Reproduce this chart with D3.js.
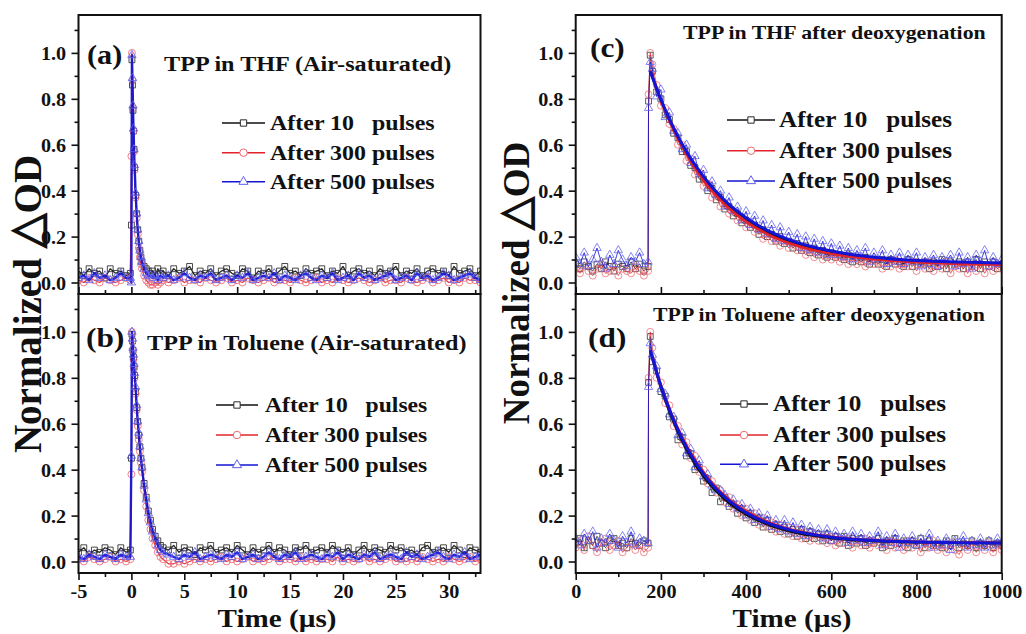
<!DOCTYPE html>
<html>
<head>
<meta charset="utf-8">
<script src="https://cdn.jsdelivr.net/npm/d3@7"></script>
<style>
  html, body { margin: 0; padding: 0; background: #fff; }
  svg { display: block; }
</style>
</head>
<body>
<script>
// ---------------------------------------------------------------------------
// Transient absorption decays of TPP, normalised ΔOD vs time
// ---------------------------------------------------------------------------

// Legend entries (one per pulse count)
const legendLabels = ["After 10   pulses", "After 300 pulses", "After 500 pulses"];

// Air-saturated solutions: sampling times (µs)
const timeAir = [
  -5, -4.5, -4, -3.5, -3, -2.5, -2, -1.5, -1, -0.5,
  -0.1, 0, 0.05, 0.1, 0.15, 0.2, 0.25, 0.3, 0.4, 0.5, 0.6, 0.7, 0.8, 0.9, 1.0, 1.2, 1.4, 1.6, 1.8, 2.0, 2.25, 2.5, 2.75, 3.0,
  3.5, 4, 4.5, 5, 5.5, 6, 6.5, 7, 7.5, 8,
  8.5, 9, 9.5, 10, 10.5, 11, 11.5, 12, 12.5, 13,
  13.5, 14, 14.5, 15, 15.5, 16, 16.5, 17, 17.5, 18,
  18.5, 19, 19.5, 20, 20.5, 21, 21.5, 22, 22.5, 23,
  23.5, 24, 24.5, 25, 25.5, 26, 26.5, 27, 27.5, 28,
  28.5, 29, 29.5, 30, 30.5, 31, 31.5, 32, 32.5, 33
];

// (a) TPP in THF, air-saturated
const thfAir10 = [
  .05,.03,.06,.04,.05,.02,.06,.04,.05,.03,
  .04,.25,.97,.86,.75,.66,.58,.50,.38,.30,.23,.18,.14,.11,.09,.07,.06,.05,.04,.05,.03,.06,.04,.05,
  .03,.06,.04,.05,.07,.03,.05,.04,.06,.03,
  .05,.06,.04,.03,.06,.05,.02,.05,.04,.06,
  .03,.05,.07,.04,.05,.03,.06,.04,.05,.06,
  .03,.05,.04,.07,.03,.05,.06,.04,.05,.03,
  .06,.04,.05,.07,.03,.05,.04,.06,.03,.05,
  .06,.04,.05,.03,.07,.04,.05,.06,.03,.05
];
const thfAir300 = [
  .01,0,.02,.01,0,.02,.01,0,.01,.02,
  .01,.55,1.00,.88,.76,.66,.57,.49,.37,.28,.21,.15,.11,.08,.06,.03,.01,0,-.01,-.01,0,-.01,0,.01,
  0,.01,.02,0,.01,.01,0,.02,.01,0,
  .01,.02,0,.01,0,.02,.01,0,.01,.02,
  0,.01,.01,0,.02,.01,0,.01,.02,0,
  .01,0,.02,.01,0,.01,.02,.01,0,.01,
  .02,0,.01,.01,0,.02,.01,0,.01,.02,
  0,.01,.02,0,.01,0,.02,.01,.01,0
];
const thfAir500 = [
  .02,.03,.01,.04,.02,.03,.01,.02,.04,.02,
  .02,0,.99,.89,.77,.67,.58,.51,.39,.30,.23,.18,.14,.11,.09,.06,.04,.03,.03,.02,.03,.01,.03,.02,
  .03,.01,.02,.04,.02,.01,.03,.02,.04,.01,
  .02,.03,.01,.03,.02,.04,.01,.02,.03,.02,
  .04,.01,.03,.02,.01,.03,.04,.02,.01,.03,
  .02,.04,.01,.02,.03,.01,.04,.02,.03,.01,
  .02,.03,.04,.01,.02,.03,.01,.04,.02,.03,
  .01,.02,.04,.03,.01,.02,.03,.04,.02,.01
];

// (b) TPP in toluene, air-saturated
const tolAir10 = [
  .04,.06,.03,.05,.04,.06,.05,.03,.06,.04,
  .05,.45,.99,.96,.92,.89,.85,.81,.74,.67,.61,.55,.50,.45,.41,.34,.28,.22,.18,.14,.11,.09,.07,.06,
  .05,.07,.04,.06,.05,.03,.06,.05,.07,.04,
  .05,.06,.04,.07,.05,.03,.06,.04,.05,.07,
  .04,.06,.05,.03,.06,.05,.07,.04,.05,.06,
  .04,.07,.05,.04,.06,.03,.05,.07,.04,.06,
  .05,.04,.07,.05,.06,.04,.05,.03,.06,.07,
  .04,.05,.06,.04,.07,.05,.03,.06,.05,.04
];
const tolAir300 = [
  .01,0,.02,.01,0,.01,.02,0,.01,0,
  .01,.38,1.00,.96,.92,.88,.84,.80,.73,.66,.59,.53,.48,.43,.39,.31,.24,.18,.14,.10,.07,.04,.02,.01,
  -.01,-.01,0,-.01,0,.01,0,.01,0,.01,
  .02,0,.01,0,.01,.02,0,.01,0,.01,
  .02,0,.01,.01,0,.02,0,.01,0,.01,
  .01,0,.02,0,.01,0,.01,.02,0,.01,
  0,.01,.02,0,.01,0,.01,0,.02,.01,
  0,.01,0,.02,.01,0,.01,.02,0,.01
];
const tolAir500 = [
  .02,.01,.03,.02,.01,.03,.02,.01,.03,.02,
  .02,.46,1.00,.97,.93,.90,.86,.82,.76,.68,.61,.56,.50,.45,.41,.33,.27,.21,.17,.13,.10,.07,.05,.04,
  .03,.02,.01,.03,.02,.04,.01,.02,.03,.02,
  .01,.03,.02,.04,.01,.02,.03,.01,.02,.04,
  .02,.01,.03,.02,.04,.01,.02,.03,.02,.01,
  .03,.02,.04,.01,.03,.02,.01,.03,.02,.04,
  .01,.02,.03,.02,.01,.04,.02,.03,.01,.02,
  .03,.04,.02,.01,.03,.02,.04,.01,.02,.03
];

// Deoxygenated solutions: sampling times (µs)
const timeDeox = [
  0, 10, 20, 30, 40, 50, 60, 70, 80, 90, 100, 110, 120, 130, 140, 150, 160, 170,
  171, 175,
  180, 190, 200, 210, 220, 230, 240, 250, 260, 270,
  280, 290, 300, 310, 320, 330, 340, 350, 360, 370,
  380, 390, 400, 410, 420, 430, 440, 450, 460, 470,
  480, 490, 500, 510, 520, 530, 540, 550, 560, 570,
  580, 590, 600, 610, 620, 630, 640, 650, 660, 670,
  680, 690, 700, 710, 720, 730, 740, 750, 760, 770,
  780, 790, 800, 810, 820, 830, 840, 850, 860, 870,
  880, 890, 900, 910, 920, 930, 940, 950, 960, 970,
  980, 990, 1000
];

// (c) TPP in THF after deoxygenation
const thfDeox10 = [
  .08,.06,.09,.07,.05,.08,.06,.09,.07,.05,.08,.07,.06,.09,.06,.08,.05,.07,
  .79,.99,
  .92,.83,.80,.73,.71,.65,.63,.57,.57,.51,
  .50,.45,.45,.40,.41,.36,.37,.32,.33,.29,
  .30,.26,.27,.24,.25,.21,.23,.20,.21,.18,
  .20,.17,.18,.15,.17,.14,.16,.13,.15,.12,
  .14,.11,.13,.11,.12,.10,.12,.09,.11,.09,
  .11,.08,.10,.08,.10,.07,.10,.08,.09,.07,
  .10,.07,.09,.08,.09,.06,.09,.07,.10,.06,
  .09,.08,.09,.06,.09,.07,.10,.06,.09,.07,
  .09,.06,.08
];
const thfDeox300 = [
  .06,.04,.07,.05,.03,.06,.08,.04,.05,.07,.03,.06,.05,.04,.07,.05,.03,.05,
  .82,1.00,
  .95,.86,.77,.76,.69,.67,.60,.60,.53,.54,
  .47,.48,.42,.43,.37,.38,.33,.34,.30,.31,
  .27,.28,.24,.26,.22,.23,.19,.21,.18,.19,
  .16,.18,.15,.17,.14,.15,.12,.14,.11,.13,
  .10,.12,.10,.12,.09,.11,.08,.11,.08,.10,
  .07,.10,.08,.09,.06,.09,.07,.10,.06,.08,
  .07,.09,.05,.08,.06,.09,.05,.08,.06,.09,
  .04,.07,.06,.08,.04,.07,.05,.08,.04,.07,
  .05,.08,.06
];
const thfDeox500 = [
  .11,.08,.13,.07,.10,.15,.09,.06,.12,.08,.14,.10,.07,.11,.09,.13,.08,.09,
  .76,.96,
  .93,.81,.84,.72,.74,.66,.65,.58,.60,.52,
  .55,.47,.49,.41,.44,.38,.40,.33,.37,.31,
  .33,.27,.31,.25,.29,.23,.27,.21,.25,.19,
  .24,.18,.22,.17,.21,.15,.20,.14,.19,.13,
  .18,.12,.17,.12,.16,.11,.15,.10,.14,.11,
  .15,.09,.13,.10,.14,.08,.12,.09,.13,.08,
  .12,.09,.13,.07,.11,.08,.12,.07,.11,.09,
  .12,.07,.13,.08,.11,.06,.12,.09,.14,.07,
  .11,.08,.10
];

// (d) TPP in toluene after deoxygenation
const tolDeox10 = [
  .08,.10,.06,.09,.07,.11,.08,.06,.09,.10,.07,.08,.06,.10,.08,.07,.09,.08,
  .78,.98,
  .87,.83,.74,.72,.63,.62,.53,.54,.46,.47,
  .40,.41,.35,.36,.30,.32,.26,.28,.24,.25,
  .21,.23,.19,.21,.17,.19,.15,.18,.14,.16,
  .13,.15,.12,.14,.11,.14,.10,.13,.10,.12,
  .09,.12,.09,.11,.08,.11,.07,.10,.08,.10,
  .07,.09,.08,.10,.06,.09,.07,.10,.08,.09,
  .06,.09,.07,.10,.06,.09,.07,.08,.06,.09,
  .07,.10,.06,.08,.07,.09,.06,.08,.07,.09,
  .06,.08,.07
];
const tolDeox300 = [
  .06,.09,.05,.11,.07,.04,.08,.10,.05,.07,.09,.04,.06,.08,.05,.07,.04,.06,
  .80,1.00,
  .93,.80,.78,.69,.68,.59,.59,.51,.52,.45,
  .46,.39,.40,.34,.35,.30,.31,.26,.28,.23,
  .25,.20,.23,.18,.21,.16,.19,.15,.17,.13,
  .16,.12,.15,.11,.14,.10,.13,.09,.12,.09,
  .11,.08,.11,.07,.10,.08,.10,.06,.09,.07,
  .10,.06,.09,.07,.08,.05,.09,.06,.08,.05,
  .09,.06,.08,.04,.08,.06,.09,.05,.07,.04,
  .08,.05,.03,.07,.05,.08,.04,.07,.05,.08,
  .04,.07,.05
];
const tolDeox500 = [
  .10,.07,.12,.09,.13,.06,.10,.08,.12,.09,.06,.11,.08,.13,.07,.10,.09,.08,
  .76,.95,
  .90,.85,.75,.73,.64,.63,.55,.56,.47,.49,
  .41,.44,.37,.38,.33,.31,.31,.29,.25,.27,
  .23,.25,.20,.23,.18,.21,.17,.20,.15,.18,
  .14,.18,.13,.17,.12,.16,.11,.15,.12,.14,
  .10,.14,.09,.13,.10,.12,.08,.13,.09,.12,
  .08,.11,.09,.13,.07,.11,.08,.12,.06,.10,
  .08,.11,.07,.10,.08,.12,.06,.09,.07,.10,
  .05,.09,.08,.11,.06,.09,.07,.10,.06,.09,
  .07,.10,.08
];

// Single-exponential fits to the deoxygenated decays
const fitTime = [175, 200, 225, 250, 300, 350, 400, 450, 500, 600, 700, 800, 900, 1000];
const thfFit10  = [.92, .795, .688, .596, .452, .348, .273, .219, .180, .131, .105, .092, .085, .081];
const thfFit300 = [.925, .794, .684, .591, .444, .340, .265, .211, .172, .125, .101, .088, .081, .078];
const thfFit500 = [.92, .797, .692, .602, .461, .357, .282, .227, .187, .137, .110, .096, .089, .085];
const tolFit10  = [.92, .760, .630, .525, .371, .271, .205, .162, .133, .103, .090, .084, .082, .081];
const tolFit300 = [.92, .768, .643, .541, .389, .287, .219, .173, .142, .108, .093, .086, .083, .081];
const tolFit500 = [.92, .764, .638, .534, .382, .280, .213, .168, .139, .106, .091, .085, .082, .081];

// Axis ticks
const yMajor = [0, 0.2, 0.4, 0.6, 0.8, 1.0];
const yMinor = [0.1, 0.3, 0.5, 0.7, 0.9, 1.1];
const xMajorAir = [-5, 0, 5, 10, 15, 20, 25, 30];
const xMinorAir = [-2.5, 2.5, 7.5, 12.5, 17.5, 22.5, 27.5, 32.5];
const xMajorDeox = [0, 200, 400, 600, 800, 1000];
const xMinorDeox = [100, 300, 500, 700, 900];

// ---------------------------------------------------------------------------
const W = 1026, H = 634;
const FONT = '"Liberation Serif", "Times New Roman", serif';
const SX = 1.12;   // wide typesetting of the figure text

const svg = d3.select("body").append("svg")
  .attr("width", W).attr("height", H)
  .attr("font-family", FONT).attr("font-weight", "bold");
svg.append("rect").attr("width", W).attr("height", H).attr("fill", "#fff");

const xAir  = d3.scaleLinear().domain([-5, 33]).range([78.5, 480.5]);
const xDeox = d3.scaleLinear().domain([0, 1000]).range([575.7, 1001.7]);
const yDomain = [-0.05, 1.165];
const yUpper = d3.scaleLinear().domain(yDomain).range([294, 15]);
const yLower = d3.scaleLinear().domain(yDomain).range([573, 294]);

const styles = [
  { line: "#111111", mark: "#2a2a2a", sym: d3.symbolSquare,   size: 34 },
  { line: "#e2232c", mark: "#ee6a72", sym: d3.symbolCircle,   size: 38 },
  { line: "#1414d4", mark: "#5f5ff0", sym: d3.symbolTriangle, size: 30 }
];

function addText(parent, x, y, str, size, anchor) {
  return parent.append("text")
    .attr("transform", `translate(${x},${y}) scale(${SX},1)`)
    .attr("font-size", size)
    .attr("text-anchor", anchor || "start")
    .style("white-space", "pre")
    .attr("fill", "#111")
    .text(str);
}

const panels = [
  { key: "a", x: xAir, y: yUpper, t: timeAir, vals: [thfAir10, thfAir300, thfAir500],
    lineW: [1.3, 1.2, 2.4], markOp: 0.95, bottom: false, xMajor: xMajorAir, xMinor: xMinorAir,
    tag: ["(a)", 87, 64, 27], title: ["TPP in THF (Air-saturated)", 164, 71, 21.6],
    legend: { x0: 222, x1: 265, tx: 270, rows: [123, 152.7, 181.7], size: 21.4 } },
  { key: "b", x: xAir, y: yLower, t: timeAir, vals: [tolAir10, tolAir300, tolAir500],
    lineW: [1.3, 1.2, 2.4], markOp: 0.95, bottom: true, xMajor: xMajorAir, xMinor: xMinorAir,
    tag: ["(b)", 86, 347, 28], title: ["TPP in Toluene (Air-saturated)", 147, 350, 21.6],
    legend: { x0: 216, x1: 258, tx: 265, rows: [405, 435, 465], size: 21.1 } },
  { key: "c", x: xDeox, y: yUpper, t: timeDeox, vals: [thfDeox10, thfDeox300, thfDeox500],
    fits: [thfFit10, thfFit300, thfFit500],
    lineW: [0.8, 0.8, 0.9], markOp: 0.85, bottom: false, xMajor: xMajorDeox, xMinor: xMinorDeox,
    tag: ["(c)", 590, 57, 28], title: ["TPP in THF after deoxygenation", 683, 39, 19.5],
    legend: { x0: 727, x1: 775, tx: 779, rows: [120, 150.7, 181], size: 22.5 } },
  { key: "d", x: xDeox, y: yLower, t: timeDeox, vals: [tolDeox10, tolDeox300, tolDeox500],
    fits: [tolFit10, tolFit300, tolFit500],
    lineW: [0.8, 0.8, 0.9], markOp: 0.85, bottom: true, xMajor: xMajorDeox, xMinor: xMinorDeox,
    tag: ["(d)", 588, 347, 28], title: ["TPP in Toluene after deoxygenation", 653, 320.5, 19.5],
    legend: { x0: 720, x1: 768, tx: 773, rows: [404, 435, 464.3], size: 22.5 } }
];

function styleAxis(g, withText) {
  g.select(".domain").remove();
  g.selectAll(".tick line").attr("stroke", "#111").attr("stroke-width", 1.6);
  if (withText) {
    g.selectAll(".tick text")
      .attr("font-family", FONT).attr("font-weight", "bold")
      .attr("font-size", 18).attr("fill", "#111")
      .attr("transform", `scale(${SX},1)`);
  }
}

function drawPanel(p) {
  const g = svg.append("g").attr("class", "panel-" + p.key);
  const [x0, x1] = p.x.range();
  const [yb, yt] = p.y.range();

  const clipId = "clip-" + p.key;
  svg.append("clipPath").attr("id", clipId)
    .append("rect").attr("x", x0).attr("y", yt).attr("width", x1 - x0).attr("height", yb - yt);
  const plot = g.append("g").attr("clip-path", `url(#${clipId})`);

  const line = d3.line().x(d => p.x(d[0])).y(d => p.y(d[1]));

  // measured traces: connecting line + hollow markers
  p.vals.forEach((v, i) => {
    const st = styles[i];
    const pts = p.t.map((t, j) => [t, v[j]]).filter(d => d[1] !== undefined);
    plot.append("path").datum(pts)
      .attr("fill", "none").attr("stroke", st.line)
      .attr("stroke-width", p.lineW[i]).attr("stroke-opacity", 0.9)
      .attr("stroke-linejoin", "round")
      .attr("d", line);
    plot.append("g").selectAll("path").data(pts).join("path")
      .attr("transform", d => `translate(${p.x(d[0])},${p.y(d[1])})`)
      .attr("d", d3.symbol(st.sym, st.size))
      .attr("fill", "none").attr("stroke", st.mark)
      .attr("stroke-width", 0.9).attr("stroke-opacity", p.markOp);
  });

  // fitted curves
  if (p.fits) {
    const fitLine = d3.line().curve(d3.curveMonotoneX)
      .x(d => p.x(d[0])).y(d => p.y(d[1]));
    p.fits.forEach((f, i) => {
      plot.append("path").datum(fitTime.map((t, j) => [t, f[j]]))
        .attr("fill", "none").attr("stroke", styles[i].line)
        .attr("stroke-width", i === 2 ? 3 : 2.6)
        .attr("d", fitLine);
    });
  }

  // y axis (outward ticks)
  const yAx = g.append("g").attr("transform", `translate(${x0},0)`)
    .call(d3.axisLeft(p.y).tickValues(yMajor).tickSize(7).tickPadding(4)
      .tickFormat(d3.format(".1f")));
  styleAxis(yAx, true);
  yAx.selectAll(".tick text").attr("dy", "0.36em");
  const yMin = g.append("g").attr("transform", `translate(${x0},0)`)
    .call(d3.axisLeft(p.y).tickValues(yMinor).tickSize(4).tickFormat(""));
  styleAxis(yMin, false);

  // x axis: labelled ticks below the lower panels, inward ticks on the upper ones
  if (p.bottom) {
    const xAx = g.append("g").attr("transform", `translate(0,${yb})`)
      .call(d3.axisBottom(p.x).tickValues(p.xMajor).tickSize(7).tickPadding(5)
        .tickFormat(d => String(d)));
    styleAxis(xAx, true);
    const xMin = g.append("g").attr("transform", `translate(0,${yb})`)
      .call(d3.axisBottom(p.x).tickValues(p.xMinor).tickSize(4).tickFormat(""));
    styleAxis(xMin, false);
  } else {
    const xAx = g.append("g").attr("transform", `translate(0,${yb})`)
      .call(d3.axisTop(p.x).tickValues(p.xMajor).tickSize(7).tickFormat(""));
    styleAxis(xAx, false);
    const xMin = g.append("g").attr("transform", `translate(0,${yb})`)
      .call(d3.axisTop(p.x).tickValues(p.xMinor).tickSize(4).tickFormat(""));
    styleAxis(xMin, false);
  }

  // frame
  g.append("rect").attr("x", x0).attr("y", yt)
    .attr("width", x1 - x0).attr("height", yb - yt)
    .attr("fill", "none").attr("stroke", "#111").attr("stroke-width", 2);

  // panel tag and title
  addText(g, p.tag[1], p.tag[2], p.tag[0], p.tag[3]);
  addText(g, p.title[1], p.title[2], p.title[0], p.title[3]);

  // legend
  const L = p.legend;
  legendLabels.forEach((lab, i) => {
    const st = styles[i];
    const ry = L.rows[i];
    g.append("line").attr("x1", L.x0).attr("x2", L.x1).attr("y1", ry).attr("y2", ry)
      .attr("stroke", st.line).attr("stroke-width", 1.6);
    g.append("path").attr("transform", `translate(${(L.x0 + L.x1) / 2},${ry})`)
      .attr("d", d3.symbol(st.sym, st.size + 6))
      .attr("fill", "#fff").attr("stroke", st.mark).attr("stroke-width", 1);
    addText(g, L.tx, ry + 7, lab, L.size);
  });
}

panels.forEach(drawPanel);

// axis titles
addText(svg, 277, 627, "Time (µs)", 26, "middle");
addText(svg, 792, 627, "Time (µs)", 26, "middle");

function yTitle(x, y, size) {
  const t = svg.append("text")
    .attr("transform", `translate(${x},${y}) rotate(-90)`)
    .attr("text-anchor", "middle").attr("font-size", size).attr("fill", "#111");
  t.append("tspan").text("Normalized ");
  t.append("tspan").attr("font-size", size * 1.15).text("△");
  t.append("tspan").text("OD");
}
yTitle(41, 304, 39);
yTitle(529, 283, 37);
</script>
</body>
</html>
